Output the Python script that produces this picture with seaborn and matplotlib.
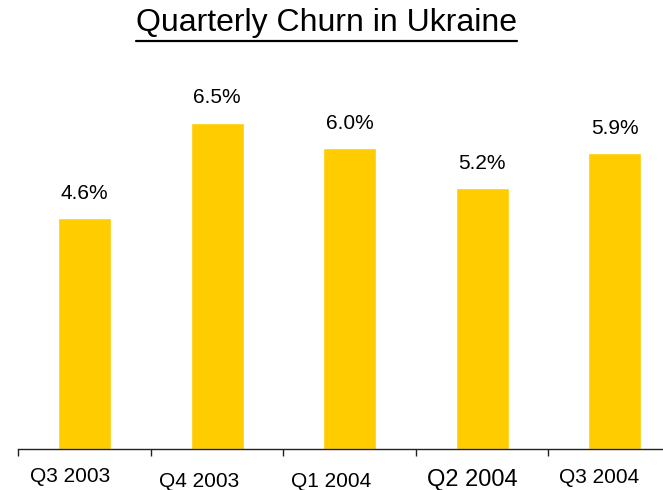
import matplotlib
matplotlib.use("Agg")
import matplotlib.pyplot as plt
import seaborn as sns
import pandas as pd
from matplotlib.lines import Line2D

quarters = ["Q3 2003", "Q4 2003", "Q1 2004", "Q2 2004", "Q3 2004"]
churn = [4.6, 6.5, 6.0, 5.2, 5.9]

sns.set_style("white")
plt.rcParams["font.family"] = ["Liberation Sans", "DejaVu Sans"]
plt.rcParams["text.color"] = "black"

df = pd.DataFrame({"quarter": quarters, "churn": churn})

fig = plt.figure(figsize=(6.63, 4.9), dpi=100)
# axes: 132.5 px per category, baseline at y=449
ax = fig.add_axes([18.3 / 663, 40.7 / 490, 644.7 / 663, 402 / 490])

sns.barplot(data=df, x="quarter", y="churn", color="#FFCC00", saturation=1,
            width=0.4, ax=ax)

ax.bar_label(ax.containers[0], labels=[f"{v:.1f}%" for v in churn],
             padding=11, fontsize=15, color="black")

# bottom axis only, ticks at category boundaries
sns.despine(ax=ax, left=True, top=True, right=True)
ax.spines["bottom"].set_color("#222222")
ax.spines["bottom"].set_linewidth(1)
ax.set_yticks([])
ax.set_xticks([i - 0.5 for i in range(len(quarters) + 1)])
ax.set_xticklabels([])
ax.tick_params(axis="x", which="major", length=5, width=1, color="#222222",
               bottom=True, direction="out")
ax.set_xlabel("")
ax.set_ylabel("")
ax.set_xlim(-0.5, 4.366)
ax.set_ylim(0, 8)

# category labels, slightly staggered like the original slide
label_dx = [-0.11, -0.136, -0.136, -0.075, -0.117]
label_dy = [-33, -38, -38, -37, -34]
label_fs = [15, 15, 15, 17, 15]
for i, q in enumerate(quarters):
    ax.annotate(q, xy=(i + label_dx[i], 0), xycoords=("data", "axes fraction"),
                xytext=(0, label_dy[i]), textcoords="offset pixels",
                ha="center", va="baseline", fontsize=label_fs[i], color="black")

# underlined title
title = fig.text(0.493, 1 - 23 / 490, "Quarterly Churn in Ukraine",
                 ha="center", va="center", fontsize=23, color="black")
fig.canvas.draw()
bb = title.get_window_extent(fig.canvas.get_renderer())
y_line = 1 - 41 / 490
fig.add_artist(Line2D([bb.x0 / 663, bb.x1 / 663], [y_line, y_line],
                      transform=fig.transFigure, color="black", linewidth=1.6))

fig.savefig("out.png", dpi=100)
